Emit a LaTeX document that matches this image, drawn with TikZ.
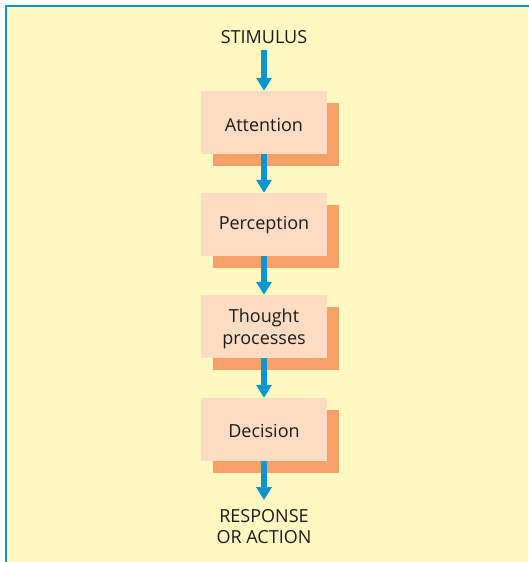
\documentclass[tikz,border=0pt]{standalone}
\usepackage{fontspec}
\setmainfont{Open Sans}
\usetikzlibrary{arrows.meta}
\definecolor{paper}{HTML}{FFF8C0}
\definecolor{frame}{HTML}{0A96CC}
\definecolor{boxfill}{HTML}{FDDCC4}
\definecolor{boxshade}{HTML}{F7A068}
\definecolor{ink}{HTML}{1E1A1B}
% lower a text without changing the size TikZ centres on
\newcommand\lowerby[2]{\raisebox{-#1}[\height][\depth]{#2}}
\tikzset{
  stage/.style={minimum width=126pt, minimum height=63pt, fill=boxfill,
    inner sep=0pt, align=center, text=ink, font=\fontsize{18}{22}\selectfont},
  caption/.style={align=center, text=ink, font=\fontsize{18}{20.5}\selectfont},
  flow/.style={draw=frame, line width=6.5pt,
    -{Triangle[width=15pt,length=13pt]}}
}
\begin{document}
\begin{tikzpicture}[x=1pt,y=-1pt]
  \useasboundingbox (0,0) rectangle (528,562);
  % panel
  \fill[paper] (6,6) rectangle (528,562);
  \draw[frame, line width=2.4pt] (6,564) -- (6,6) -- (530,6);
  % shadows of the stage boxes
  \foreach \y in {122.5,224.5,326.5,429.5}
    \fill[boxshade] (213,\y+12-31.5) rectangle (339,\y+12+31.5);
  % stage boxes (text sits slightly below centre)
  \node[stage] (att) at (264,122.5) {\lowerby{2pt}{Attention}};
  \node[stage] (per) at (264,224.5) {\lowerby{1pt}{Perception}};
  \node[stage] (tho) at (264,326.5)
    {\lowerby{2.5pt}{\begin{tabular}{@{}c@{}}Thought\\processes\end{tabular}}};
  \node[stage] (dec) at (264,429.5) {\lowerby{1.5pt}{Decision}};
  % end labels
  \node[caption] (stim) at (264,37) {STIMULUS};
  \node[caption] (resp) at (264,526.5) {RESPONSE\\OR ACTION};
  % connectors
  \draw[flow] (264,50) -- (att.north);
  \draw[flow] (att.south) -- (per.north);
  \draw[flow] (per.south) -- (tho.north);
  \draw[flow] (tho.south) -- (dec.north);
  \coordinate (out) at (264,500);
  \draw[flow] (dec.south) -- (out);
\end{tikzpicture}
\end{document}
